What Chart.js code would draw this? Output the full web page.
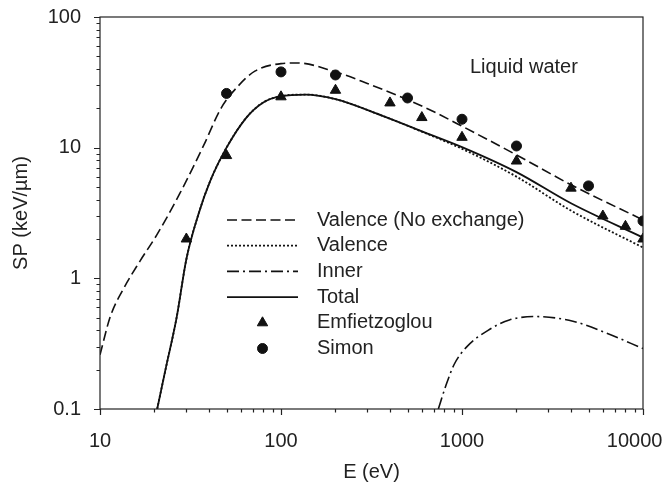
<!DOCTYPE html>
<html>
<head>
<meta charset="utf-8">
<script src="https://cdn.jsdelivr.net/npm/chart.js@4/dist/chart.umd.min.js"></script>
<style>
  body { margin: 0; background: #fff; }
</style>
</head>
<body>
<canvas id="canvas_sp" width="667" height="485"></canvas>
<script>
// axis ticks
var xMajor = [10, 100, 1000, 10000];
var xTickLabels = ['10', '100', '1000', '10000   '];
var yMajor = [0.1, 1, 10, 100];
var yTickLabels = ['0.1', '1', '10', '100'];

// Valence (No exchange)
var eNoEx = [10, 11.4, 13.4, 16.6, 20.6, 27.7, 37.5, 46.6, 57.8, 71.7, 100, 123, 200, 300, 500, 700, 1000, 2000, 4000, 10000];
var spNoEx = [0.26, 0.51, 0.82, 1.35, 2.15, 4.5, 10.5, 20, 29.5, 38.5, 44, 44.5, 38, 31, 23.3, 18.8, 14.6, 8.8, 5.2, 2.8];

// Total
var eTotal = [20.7, 23, 26.5, 30, 35, 40.5, 50, 64.4, 79.8, 100, 137, 200, 361, 621, 1000, 2000, 4000, 10000];
var spTotal = [0.1, 0.2, 0.5, 1.4, 3.1, 5.5, 10, 17, 22.2, 24.8, 25.5, 23.5, 17.6, 13.1, 10.1, 6.5, 3.75, 2.05];

// Valence (with exchange)
var eVal = [20.7, 23, 26.5, 30, 35, 40.5, 50, 64.4, 79.8, 100, 137, 200, 361, 621, 1000, 2000, 4000, 10000];
var spVal = [0.1, 0.2, 0.5, 1.4, 3.1, 5.5, 10, 17, 22.2, 24.8, 25.5, 23.5, 17.6, 13.0, 9.8, 6.0, 3.3, 1.72];

// Inner shells
var eInner = [740, 813, 906, 1065, 1393, 1826, 2524, 4100, 6310, 10000];
var spInner = [0.1, 0.15, 0.22, 0.30, 0.40, 0.48, 0.51, 0.47, 0.38, 0.29];

// Emfietzoglou
var eEmf = [30, 50, 100, 200, 400, 600, 1000, 2000, 4000, 6000, 8000, 10000];
var spEmf = [2.0, 8.7, 24.5, 27.5, 22, 17, 12, 7.9, 4.9, 3.0, 2.5, 2.0];

// Simon
var eSimon = [50, 100, 200, 500, 1000, 2000, 5000, 10000];
var spSimon = [26, 38, 36, 24, 16.5, 10.3, 5.1, 2.75];

var ink = '#111';
var textColor = '#222';
var fontFamily = '"Liberation Sans", Arial, Helvetica, sans-serif';

function pts(xs, ys) {
  return xs.map(function (x, i) { return { x: x, y: ys[i] }; });
}

function allTicks(major) {
  var out = [];
  for (var i = 0; i < major.length - 1; i++) {
    for (var m = 1; m <= 9; m++) out.push(major[i] * m);
  }
  out.push(major[major.length - 1]);
  return out;
}

function isMajor(v, major) {
  return major.some(function (m) { return Math.abs(m - v) / m < 1e-6; });
}

function labelFor(v, major, labels) {
  for (var i = 0; i < major.length; i++) {
    if (Math.abs(major[i] - v) / major[i] < 1e-6) return labels[i];
  }
  return '';
}

function lineSet(label, xs, ys, dash, width) {
  return {
    label: label,
    data: pts(xs, ys),
    borderColor: ink,
    backgroundColor: ink,
    borderWidth: width,
    borderDash: dash,
    pointRadius: 0,
    fill: false,
    showLine: true,
    cubicInterpolationMode: 'monotone'
  };
}

function markSet(label, xs, ys, style, r) {
  return {
    label: label,
    data: pts(xs, ys),
    showLine: false,
    pointStyle: style,
    pointRadius: r,
    pointBorderWidth: 1,
    borderColor: ink,
    backgroundColor: ink,
    pointBackgroundColor: ink,
    pointBorderColor: ink
  };
}

var dataSP = {
  datasets: [
    lineSet('Valence (No exchange)', eNoEx, spNoEx, [10, 4.5], 1.6),
    lineSet('Valence', eVal, spVal, [2, 2], 1.8),
    lineSet('Inner', eInner, spInner, [12, 4, 2, 4], 1.6),
    lineSet('Total', eTotal, spTotal, [], 1.8),
    markSet('Emfietzoglou', eEmf, spEmf, 'triangle', 6),
    markSet('Simon', eSimon, spSimon, 'circle', 5)
  ]
};

// box + outward tick marks
var framePlugin = {
  id: 'frame',
  afterDraw: function (chart) {
    var ctx = chart.ctx, a = chart.chartArea;
    var x = chart.scales.x, y = chart.scales.y;
    ctx.save();
    ctx.strokeStyle = '#222';
    ctx.lineWidth = 1.2;
    ctx.strokeRect(a.left, a.top, a.right - a.left, a.bottom - a.top);
    ctx.beginPath();
    x.ticks.forEach(function (t) {
      var px = Math.round(x.getPixelForValue(t.value)) + 0.5;
      var len = isMajor(t.value, xMajor) ? 6 : 3.5;
      ctx.moveTo(px, a.bottom);
      ctx.lineTo(px, a.bottom + len);
    });
    y.ticks.forEach(function (t) {
      var py = Math.round(y.getPixelForValue(t.value)) + 0.5;
      var len = isMajor(t.value, yMajor) ? 6 : 3.5;
      ctx.moveTo(a.left, py);
      ctx.lineTo(a.left - len, py);
    });
    ctx.stroke();

    // label inside the plot
    ctx.fillStyle = textColor;
    ctx.font = '20px ' + fontFamily;
    ctx.textBaseline = 'middle';
    ctx.textAlign = 'left';
    ctx.fillText('Liquid water', 470, 67);
    ctx.restore();
  }
};

// legend inside the plot area
var legendPlugin = {
  id: 'innerLegend',
  afterDraw: function (chart) {
    var ctx = chart.ctx;
    var top = 220, step = 25.7;
    var x0 = 227, x1 = 298, tx = 317;
    ctx.save();
    chart.data.datasets.forEach(function (ds, i) {
      var yy = top + i * step;
      if (ds.showLine) {
        ctx.strokeStyle = ds.borderColor;
        ctx.lineWidth = ds.borderWidth;
        ctx.setLineDash(ds.borderDash || []);
        ctx.beginPath();
        ctx.moveTo(x0, yy);
        ctx.lineTo(x1, yy);
        ctx.stroke();
        ctx.setLineDash([]);
      } else {
        ctx.fillStyle = ds.backgroundColor;
        ctx.strokeStyle = ds.borderColor;
        ctx.lineWidth = 1;
        Chart.helpers.drawPoint(ctx, { pointStyle: ds.pointStyle, radius: ds.pointRadius, borderWidth: 1 }, (x0 + x1) / 2, yy);
      }
      ctx.fillStyle = textColor;
      ctx.font = '20px ' + fontFamily;
      ctx.textBaseline = 'middle';
      ctx.textAlign = 'left';
      ctx.fillText(ds.label, tx, yy);
    });
    ctx.restore();
  }
};

var optionsSP = {
  responsive: false,
  animation: false,
  layout: { padding: { left: 0, top: 17, right: 24, bottom: 0 } },
  plugins: {
    legend: { display: false },
    tooltip: { enabled: false }
  },
  scales: {
    x: {
      type: 'logarithmic',
      position: 'bottom',
      min: 10,
      max: 10000,
      grid: { display: false, drawTicks: false },
      border: { display: false },
      afterBuildTicks: function (s) {
        s.ticks = allTicks(xMajor).map(function (v) { return { value: v, major: isMajor(v, xMajor) }; });
      },
      afterFit: function (s) {
        s.height = 76;
        s.paddingLeft = 0;
        s.paddingRight = 0;
      },
      ticks: {
        autoSkip: false,
        maxRotation: 0,
        padding: 20,
        color: textColor,
        font: { family: fontFamily, size: 20 },
        callback: function (v) { return labelFor(v, xMajor, xTickLabels); }
      },
      title: {
        display: true,
        text: 'E (eV)',
        color: textColor,
        font: { family: fontFamily, size: 20 },
        padding: { top: 0, bottom: 1 }
      }
    },
    y: {
      type: 'logarithmic',
      position: 'left',
      min: 0.1,
      max: 100,
      grid: { display: false, drawTicks: false },
      border: { display: false },
      afterBuildTicks: function (s) {
        s.ticks = allTicks(yMajor).map(function (v) { return { value: v, major: isMajor(v, yMajor) }; });
      },
      afterFit: function (s) {
        s.width = 100;
        s.paddingTop = 0;
        s.paddingBottom = 0;
      },
      ticks: {
        autoSkip: false,
        padding: 19,
        color: textColor,
        font: { family: fontFamily, size: 20 },
        callback: function (v) { return labelFor(v, yMajor, yTickLabels); }
      },
      title: {
        display: true,
        text: 'SP (keV/\u00b5m)',
        color: textColor,
        font: { family: fontFamily, size: 20 },
        padding: { top: 9, bottom: 0 }
      }
    }
  }
};

var ctxSP = document.getElementById('canvas_sp');
var chartSP = new Chart(ctxSP, {
  type: 'scatter',
  data: dataSP,
  options: optionsSP,
  plugins: [framePlugin, legendPlugin]
});
</script>
</body>
</html>
